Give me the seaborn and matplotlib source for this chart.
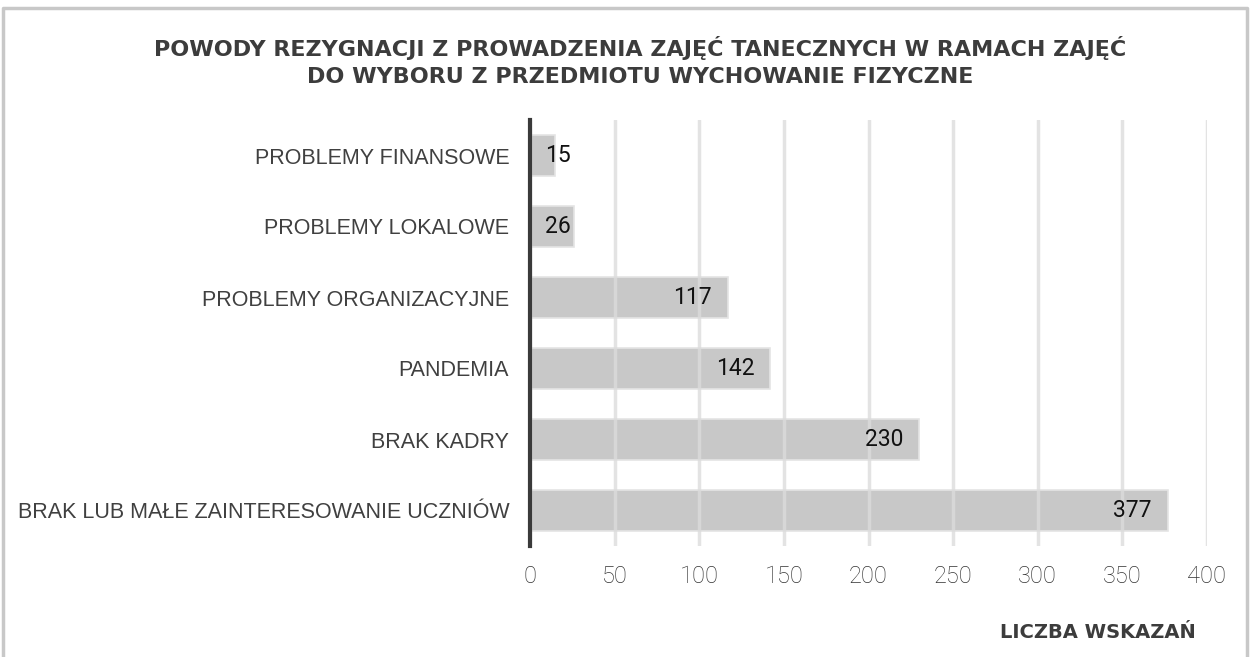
import matplotlib
matplotlib.use('agg')
import matplotlib.pyplot as plt
import seaborn as sns
import pandas as pd

# data
reasons = ['PROBLEMY FINANSOWE', 'PROBLEMY LOKALOWE', 'PROBLEMY ORGANIZACYJNE',
           'PANDEMIA', 'BRAK KADRY', 'BRAK LUB MAŁE ZAINTERESOWANIE UCZNIÓW']
counts = [15, 26, 117, 142, 230, 377]
x_ticks = [0, 50, 100, 150, 200, 250, 300, 350, 400]

df = pd.DataFrame({'reason': reasons, 'count': counts})

sns.set_style('white')
plt.rcParams['font.family'] = ['Roboto', 'DejaVu Sans']

fig = plt.figure(figsize=(12.5, 6.57), dpi=100)
ax = fig.add_axes([530 / 1250, 1 - 546 / 657, (1207 - 530) / 1250, (546 - 120) / 657])

sns.barplot(data=df, x='count', y='reason', color='#c8c8c8', width=0.59,
            saturation=1, edgecolor='#e4e4e4', linewidth=1.2, ax=ax, zorder=2)

ax.set_xlim(0, 400)
ax.set_ylim(5.5, -0.5)
ax.set_xticks(x_ticks)
ax.grid(axis='x', color='#dcdcdc', linewidth=2.5, alpha=0.8, zorder=3)
ax.set_axisbelow(False)
for s in ['top', 'right', 'bottom']:
    ax.spines[s].set_visible(False)
ax.spines['left'].set_color('#3a3a3a')
ax.spines['left'].set_linewidth(3)
ax.spines['left'].set_zorder(5)

ax.tick_params(axis='x', direction='in', length=11, width=1.5, color='#b0b0b0',
               labelsize=17, labelcolor='#333333', pad=14)
ax.tick_params(axis='y', length=0, labelsize=15.5, labelcolor='#404040', pad=15)
for t in ax.get_xticklabels():
    t.set_fontweight('light')
for t in ax.get_yticklabels():
    t.set_family(['Liberation Sans', 'DejaVu Sans'])
ax.set_xlabel('')
ax.set_ylabel('')

# value labels
for i, v in enumerate(counts):
    if v < 40:
        ax.text(9, i, str(v), ha='left', va='center', fontsize=16.5, color='#111111', zorder=6)
    else:
        ax.text(v - 9.5, i, str(v), ha='right', va='center', fontsize=16.5, color='#111111', zorder=6)

title_font = dict(ha='center', va='center', fontsize=16, fontweight='bold', color='#3c3c3c',
                  family=['DejaVu Sans'])
fig.text(0.512, 1 - 48 / 657, 'POWODY REZYGNACJI Z PROWADZENIA ZAJĘĆ TANECZNYCH W RAMACH ZAJĘĆ', **title_font)
fig.text(0.512, 1 - 77 / 657, 'DO WYBORU Z PRZEDMIOTU WYCHOWANIE FIZYCZNE', **title_font)
fig.text(1196 / 1250, 1 - 632 / 657, 'LICZBA WSKAZAŃ', ha='right', va='center',
         fontsize=14, fontweight='bold', color='#3c3c3c', family=['DejaVu Sans'])

# outer frame
fig.add_artist(plt.Line2D([3 / 1250, 3 / 1250, 1247 / 1250, 1247 / 1250],
                          [0, 1 - 8 / 657, 1 - 8 / 657, 0],
                          transform=fig.transFigure, color='#c8c8c8', linewidth=2.5))

fig.savefig('out.png', dpi=100)
